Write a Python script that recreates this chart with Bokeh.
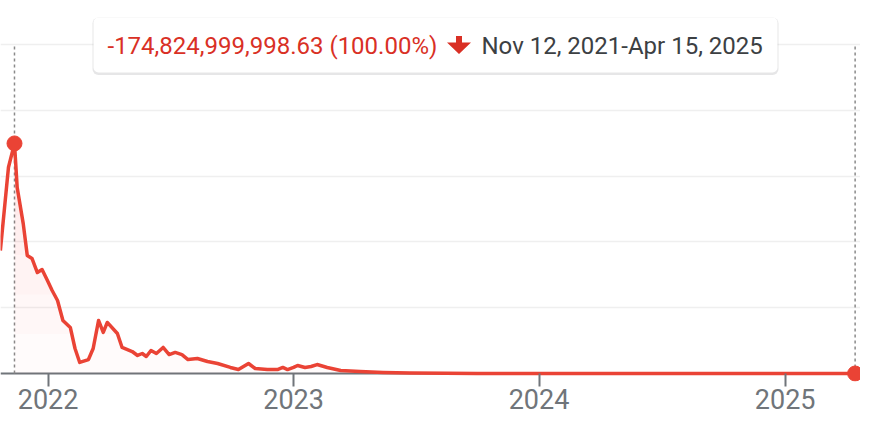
import numpy as np
import pandas as pd
from bokeh.plotting import figure
from bokeh.models import (Range1d, FixedTicker, DatetimeTickFormatter, BoxAnnotation,
                          Label, PolyAnnotation, Span)
from bokeh.embed import file_html
from bokeh.resources import INLINE

# ---------------- data (values in billions) ----------------
dates = [
    "2021-10-22", "2021-11-03", "2021-11-12", "2021-11-16", "2021-11-25", "2021-12-01",
    "2021-12-08", "2021-12-16", "2021-12-23", "2021-12-31", "2022-01-07", "2022-01-15",
    "2022-01-23", "2022-02-03", "2022-02-10", "2022-02-17", "2022-03-02", "2022-03-09",
    "2022-03-17", "2022-03-24", "2022-03-30", "2022-04-14", "2022-04-21", "2022-05-06",
    "2022-05-14", "2022-05-21", "2022-05-27", "2022-06-03", "2022-06-11", "2022-06-21",
    "2022-06-30", "2022-07-09", "2022-07-19", "2022-07-28", "2022-08-11", "2022-08-26",
    "2022-09-10", "2022-09-29", "2022-10-11", "2022-10-26", "2022-11-05", "2022-11-23",
    "2022-12-08", "2022-12-16", "2022-12-23", "2023-01-01", "2023-01-07", "2023-01-18",
    "2023-01-27", "2023-02-05", "2023-02-20", "2023-03-12", "2023-04-10", "2023-05-14",
    "2023-06-23", "2023-08-15", "2023-10-01", "2024-01-01", "2024-06-01", "2024-10-01",
    "2025-01-01", "2025-04-15",
]
values_bn = [
    93.5, 156.5, 174.825, 141.3, 113.9, 89.7,
    87.4, 76.7, 79.0, 70.7, 63.1, 55.5,
    40.3, 35.0, 19.0, 8.4, 10.6, 19.0,
    40.3, 31.2, 38.8, 30.4, 19.8, 16.7,
    13.7, 15.2, 12.9, 17.5, 15.2, 19.8,
    14.4, 16.0, 14.4, 10.6, 11.4, 9.1,
    7.6, 4.6, 3.0, 7.6, 3.8, 3.0,
    3.0, 4.6, 3.0, 4.6, 6.1, 4.6,
    5.3, 6.8, 4.6, 2.3, 1.5, 0.8,
    0.3, 0.1, 0.05, 0.02, 0.01, 0.005,
    0.002, 0.00000000137,
]
marker_dates = ["2021-11-12", "2025-04-15"]
marker_values_bn = [174.825, 0.00000000137]
year_ticks = ["2022-01-01", "2023-01-01", "2024-01-01", "2025-01-01"]
grid_values_bn = [50, 100, 150, 200, 250]
change_text = "-174,824,999,998.63 (100.00%)"
period_text = "Nov 12, 2021-Apr 15, 2025"

RED = "#ea4335"
TEXT_RED = "#d93025"
GRAY = "#70757a"

x = pd.to_datetime(dates)
mx = pd.to_datetime(marker_dates)
vals = np.array(values_bn)

def ms(s):
    return pd.Timestamp(s).value / 1e6

X0, X1 = ms("2021-10-22 04:50"), ms("2025-04-23")
Y0, Y1 = -6.08, 283.44
FW, FH = 860, 381  # frame size in px

def px2x(rx):  # picture pixel -> data x (ms)
    return X0 + rx / FW * (X1 - X0)

def px2y(ry):
    return Y1 - ry / FH * (Y1 - Y0)

p = figure(width=860, height=421, x_axis_type="datetime", y_axis_location=None,
           x_range=Range1d(X0, X1), y_range=Range1d(Y0, Y1),
           output_backend="svg", toolbar_location=None,
           min_border_left=0, min_border_right=0, min_border_top=0, min_border_bottom=40,
           outline_line_color=None, background_fill_color="white")

p.xgrid.visible = False
p.ygrid.ticker = FixedTicker(ticks=grid_values_bn)
p.ygrid.grid_line_color = "#efefef"
p.ygrid.grid_line_width = 1.5

ax = p.xaxis[0]
ax.ticker = FixedTicker(ticks=[ms(t) for t in year_ticks])
fmt = "%Y"
ax.formatter = DatetimeTickFormatter(milliseconds=fmt, seconds=fmt, minsec=fmt, minutes=fmt,
                                     hourmin=fmt, hours=fmt, days=fmt, months=fmt, years=fmt)
ax.axis_line_color = None
ax.major_tick_in = 8
ax.major_tick_out = 5
ax.major_tick_line_color = GRAY
ax.major_tick_line_width = 2
ax.minor_tick_line_color = None
ax.major_label_text_font = "Roboto"
ax.major_label_text_font_size = "27px"
ax.major_label_text_color = GRAY
ax.major_label_standoff = 2

p.add_layout(Span(location=0, dimension="width", line_color=GRAY, line_width=2, level="underlay"))

# dashed markers
p.segment(x0=mx, y0=[0, 0], x1=mx, y1=[250, 250], line_color="#8a8a8a",
          line_width=1.5, line_dash="3 3")

# faint gradient-like fill over the selected range (stacked translucent layers)
sel = x >= mx[0]
for t in [0, 30, 60, 90, 120]:
    p.varea(x=x[sel], y1=t, y2=np.maximum(vals[sel], t), fill_color=RED, fill_alpha=0.018)
p.line(x=x, y=values_bn, line_color=RED, line_width=3.5, line_join="round")
p.scatter(x=mx, y=marker_values_bn, size=15, color=RED)

# tooltip card
p.add_layout(BoxAnnotation(left=px2x(92), right=px2x(778), top=px2y(17), bottom=px2y(74.5),
                           fill_color="#3c4043", fill_alpha=0.13, line_color=None,
                           border_radius=6, level="overlay"))
p.add_layout(BoxAnnotation(left=px2x(93), right=px2x(777), top=px2y(17), bottom=px2y(72),
                           fill_color="white", fill_alpha=1, line_color=None,
                           border_radius=5, level="overlay"))
p.add_layout(Label(x=px2x(107), y=px2y(45.5), text=change_text, text_font="Roboto",
                   text_font_size="24px", text_color=TEXT_RED, text_baseline="middle",
                   text_align="left", level="overlay"))
p.add_layout(PolyAnnotation(
    xs=[px2x(455.5), px2x(461.5), px2x(461.5), px2x(470.5), px2x(458.5), px2x(446.5), px2x(455.5)],
    ys=[px2y(35.5), px2y(35.5), px2y(42), px2y(42), px2y(53.5), px2y(42), px2y(42)],
    fill_color=TEXT_RED, fill_alpha=1, line_color=None, level="overlay"))
p.add_layout(Label(x=px2x(481), y=px2y(45.5), text=period_text, text_font="Roboto",
                   text_font_size="24px", text_color="#3c4043", text_baseline="middle",
                   text_align="left", level="overlay"))

open("out.html", "w").write(file_html(p, INLINE))
